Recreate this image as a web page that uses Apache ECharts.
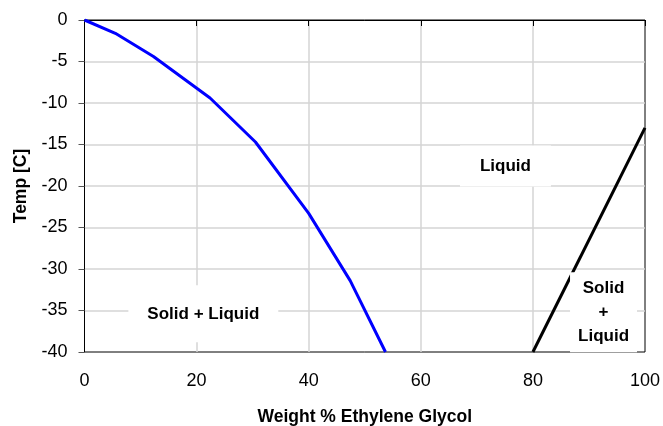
<!DOCTYPE html>
<html>
<head>
<meta charset="utf-8">
<script src="https://cdn.jsdelivr.net/npm/echarts@6/dist/echarts.min.js"></script>
<style>
  html, body { margin: 0; padding: 0; background: #fff; }
  #chart { width: 663px; height: 426px; }
</style>
</head>
<body>
<div id="chart"></div>
<script>
// Freezing curve of water / ethylene glycol mixtures
const iceLineWeight = [0, 5.5, 12.3, 22.4, 30.5, 40, 47.4, 53.7];
const iceLineTemp   = [0, -1.6, -4.4, -9.4, -14.7, -23.3, -31.4, -40];

const glycolLineWeight = [80, 100];
const glycolLineTemp   = [-40, -13];

// Region annotations
const regionNames  = ['Solid + Liquid', 'Liquid', 'Solid\n+\nLiquid'];
const regionWeight = [21.2, 75.1, 92.6];
const regionTemp   = [-35.4, -17.6, -35.2];

const FONT = 'Liberation Sans, Arial, sans-serif';

const pairs = (xs, ys) => xs.map((x, i) => [x, ys[i]]);

const chart = echarts.init(document.getElementById('chart'), null, { renderer: 'canvas' });

const labelPads = [[11, 19, 22, 19], [7, 20, 10, 20], [4, 8, 4, 8]];

chart.setOption({
  animation: false,
  backgroundColor: '#fff',
  grid: {
    left: 84.5, right: 18, top: 20, bottom: 74,
    outerBoundsMode: 'none', containLabel: false,
    show: true, borderColor: '#000', borderWidth: 1
  },
  xAxis: {
    type: 'value', min: 0, max: 100, interval: 20,
    name: 'Weight % Ethylene Glycol',
    nameLocation: 'middle', nameGap: 56,
    nameTextStyle: { fontFamily: FONT, fontSize: 17.5, fontWeight: 'bold', color: '#000' },
    axisLine: { show: true, lineStyle: { color: '#000', width: 1 } },
    axisTick: { show: true, inside: false, length: 6, lineStyle: { color: '#000' } },
    axisLabel: { margin: 20, fontFamily: FONT, fontSize: 18, color: '#000' },
    splitLine: { show: true, showMinLine: false, showMaxLine: false, lineStyle: { color: '#d4d4d4', width: 1.5 } }
  },
  yAxis: {
    type: 'value', min: -40, max: 0, interval: 5,
    name: 'Temp [C]',
    nameLocation: 'middle', nameGap: 54, nameRotate: 90,
    nameTextStyle: { fontFamily: FONT, fontSize: 17.5, fontWeight: 'bold', color: '#000' },
    axisLine: { show: true, onZero: false, lineStyle: { color: '#000', width: 1 } },
    axisTick: { show: true, inside: false, length: 6, lineStyle: { color: '#555' } },
    axisLabel: { margin: 17, fontFamily: FONT, fontSize: 18, color: '#000' },
    splitLine: { show: true, showMinLine: false, showMaxLine: false, lineStyle: { color: '#d4d4d4', width: 1.5 } }
  },
  series: [
    {
      type: 'line', data: pairs(iceLineWeight, iceLineTemp),
      symbol: 'none', lineStyle: { color: '#0000ff', width: 3 }, z: 3
    },
    {
      type: 'line', data: pairs(glycolLineWeight, glycolLineTemp),
      symbol: 'none', lineStyle: { color: '#000', width: 3 }, z: 3
    },
    {
      type: 'scatter', symbolSize: 0, z: 10,
      itemStyle: { opacity: 1 },
      data: regionNames.map((n, i) => ({
        value: [regionWeight[i], regionTemp[i]],
        name: n,
        label: { padding: labelPads[i] }
      })),
      label: {
        show: true, position: 'inside', opacity: 1,
        formatter: p => p.name,
        fontFamily: FONT, fontSize: 17, fontWeight: 'bold', color: '#000',
        lineHeight: 24, align: 'center', verticalAlign: 'middle',
        backgroundColor: '#fff'
      },
      emphasis: { disabled: true }
    }
  ]
});
</script>
</body>
</html>
